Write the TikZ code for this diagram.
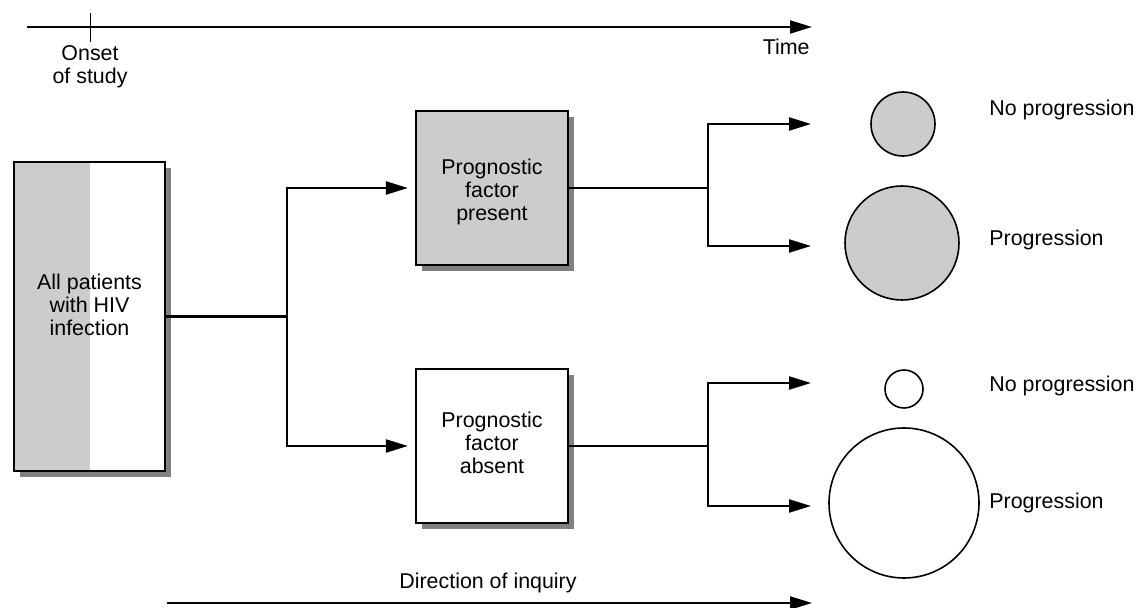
\documentclass[tikz,border=0pt]{standalone}
\usepackage{fontspec}
\setmainfont{Liberation Sans}
\usetikzlibrary{arrows.meta,shadows}
\definecolor{boxgray}{HTML}{CCCCCC}
\definecolor{shadegray}{HTML}{808080}
\begin{document}
\begin{tikzpicture}[x=0.5pt,y=-0.5pt,
  every node/.style={font=\fontsize{10.7}{11.6}\selectfont, inner sep=0pt},
  txt/.style={align=center},
  flowbox/.style={draw=black, line width=1.1pt, rectangle, minimum width=76pt, minimum height=77pt,
    drop shadow={shadow xshift=3pt, shadow yshift=-3pt, fill=shadegray, opacity=1}},
  bigbox/.style={draw=black, line width=1.1pt, rectangle, fill=white, minimum width=75.5pt, minimum height=154.5pt,
    drop shadow={shadow xshift=3pt, shadow yshift=-3pt, fill=shadegray, opacity=1},
    path picture={\fill[boxgray] (path picture bounding box.south west) rectangle (path picture bounding box.north);}},
  blob/.style={draw=black, line width=0.8pt, circle, inner sep=0pt},
  conn/.style={line width=1.1pt},
  arr/.style={line width=1.1pt, -{Triangle[length=11pt,width=6.5pt]}},
  outcome/.style={anchor=west}
]
\useasboundingbox (0,0) rectangle (1136,608);

% time axis with study onset tick
\coordinate (t0) at (27,27);
\coordinate (t1) at (812,27);
\coordinate (tickTop) at (90,13);
\coordinate (tickBot) at (90,42);
\draw[arr] (t0) -- (t1);
\draw[line width=0.5pt] (tickTop) -- (tickBot);
\node[txt] (onset) at (90,67) {Onset\\of study};
\node[anchor=east] (time) at (810,47) {Time};

% cohort box
\node[bigbox] (all) at (89.5,316.5) {};
\node[txt] (alltxt) at (89.5,305) {All patients\\with HIV\\infection};

% prognostic factor groups
\node[flowbox, fill=boxgray] (pf) at (492,188) {};
\node[txt] (pftxt) at (492,192) {Prognostic\\factor\\present};
\node[flowbox, fill=white] (pa) at (492,446) {};
\node[txt] (patxt) at (492,443) {Prognostic\\factor\\absent};

% split from cohort into the two groups
\coordinate (split) at (287,316.5);
\draw[conn] (all.east) -- (split);
\draw[arr] (split) |- ([xshift=-3.5pt]pf.west);
\draw[arr] (split) |- ([xshift=-3.5pt]pa.west);

% outcomes
\node[blob, fill=boxgray, minimum size=32pt] (c1) at (903,124) {};
\node[blob, fill=boxgray, minimum size=57pt] (c2) at (902,243) {};
\node[blob, fill=white, minimum size=19pt] (c3) at (904,389) {};
\node[blob, fill=white, minimum size=75pt] (c4) at (904,503) {};

\coordinate (s1) at (708,188);
\coordinate (e1) at (811,124);
\coordinate (e2) at (811,246);
\draw[conn] (pf.east) -- (s1);
\draw[arr] (s1) |- (e1);
\draw[arr] (s1) |- (e2);

\coordinate (s2) at (708,446);
\coordinate (e3) at (811,383);
\coordinate (e4) at (811,506);
\draw[conn] (pa.east) -- (s2);
\draw[arr] (s2) |- (e3);
\draw[arr] (s2) |- (e4);

\node[outcome] (np1) at (989,110) {No progression};
\node[outcome] (p1) at (989,240) {Progression};
\node[outcome] (np2) at (989,386) {No progression};
\node[outcome] (p2) at (989,503) {Progression};

% direction of inquiry
\coordinate (d0) at (167,603);
\coordinate (d1) at (812,603);
\draw[arr] (d0) -- (d1);
\node (dir) at (488,583) {Direction of inquiry};
\end{tikzpicture}
\end{document}
